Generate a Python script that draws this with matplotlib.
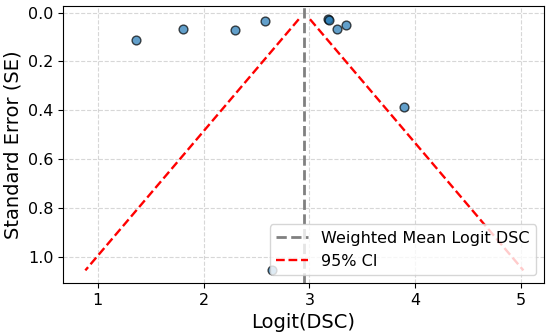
import numpy as np
import matplotlib
matplotlib.use('Agg')
import matplotlib.pyplot as plt

# study-level values
logit_dsc = [1.36, 1.81, 2.30, 2.58, 3.18, 3.185, 3.26, 3.345, 3.89, 2.645]
std_err = [0.111, 0.066, 0.072, 0.034, 0.027, 0.029, 0.068, 0.049, 0.385, 1.056]
weighted_mean = 2.953


def main():
    fig = plt.figure(figsize=(5.5, 3.35), dpi=100)
    ax = fig.add_axes([0.1145, 0.155, 0.8745, 0.827])

    ax.scatter(logit_dsc, std_err, s=40, color='tab:blue', alpha=0.7,
               edgecolor='black', linewidth=1, zorder=3)

    ax.axvline(weighted_mean, color='gray', linestyle='--', linewidth=2,
               label='Weighted Mean Logit DSC')

    se = np.linspace(min(std_err), max(std_err), 100)
    ax.plot(weighted_mean - 1.96 * se, se, color='red', linestyle='--',
            linewidth=1.7, label='95% CI')
    ax.plot(weighted_mean + 1.96 * se, se, color='red', linestyle='--',
            linewidth=1.7)

    ax.set_xlim(0.672, 5.217)
    ax.set_ylim(1.108, -0.027)
    ax.set_xticks([1, 2, 3, 4, 5])
    ax.set_yticks([0.0, 0.2, 0.4, 0.6, 0.8, 1.0])
    ax.tick_params(labelsize=11.5)
    ax.grid(True, linestyle='--', alpha=0.5)

    ax.set_xlabel('Logit(DSC)', fontsize=14)
    ax.set_ylabel('Standard Error (SE)', fontsize=14)
    ax.legend(loc='lower right', fontsize=11.5)

    fig.savefig('out.png', dpi=100)


if __name__ == '__main__':
    main()
